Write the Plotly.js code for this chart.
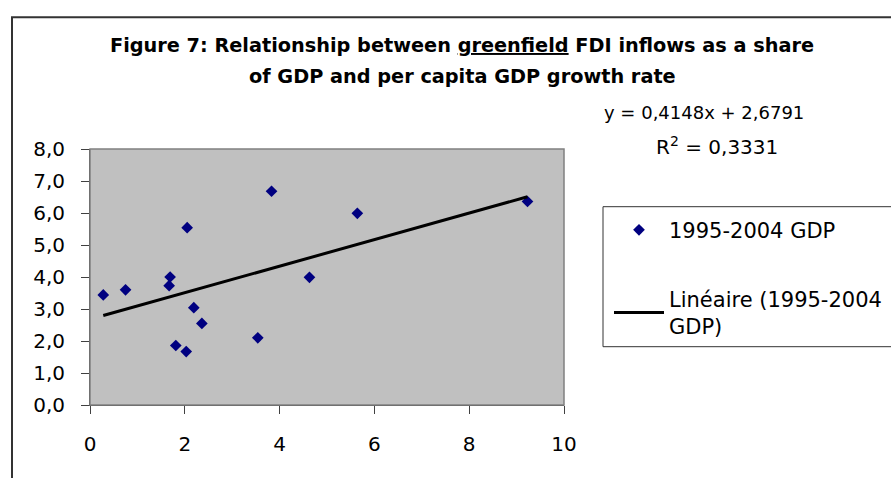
<!DOCTYPE html>
<html>
<head>
<meta charset="utf-8">
<script src="https://cdn.plot.ly/plotly-3.0.1.min.js"></script>
<style>html,body{margin:0;padding:0;background:#fff;}#chart{width:891px;height:478px;}</style>
</head>
<body>
<div id="chart"></div>
<script>
// Data (FDI share of GDP vs per-capita GDP growth)
const fdiShare = [0.28, 0.75, 1.69, 1.67, 2.05, 3.83, 5.64, 9.23, 4.63, 2.19, 2.36, 1.81, 2.03, 3.54];
const gdpGrowth = [3.44, 3.60, 4.00, 3.73, 5.54, 6.68, 5.99, 6.36, 3.99, 3.04, 2.55, 1.86, 1.67, 2.10];
const trendSlope = 0.4148;
const trendIntercept = 2.6791;
const rSquared = 0.3331;
const xTicks = [0, 2, 4, 6, 8, 10];
const yTicks = [0, 1, 2, 3, 4, 5, 6, 7, 8];
const seriesName = '1995-2004 GDP';
const trendName = 'Linéaire (1995-2004<br>GDP)';

const xMin = Math.min(...fdiShare), xMax = Math.max(...fdiShare);
const trendX = [xMin, xMax];
const trendY = trendX.map(v => trendSlope * v + trendIntercept);

// plot area in pixels
const L = 90, R = 564, T = 149.3, B = 405.3, W = 891, H = 478;
const px = x => (x - L) / (R - L);
const py = y => (B - y) / (B - T);
const fmt = v => v.toFixed(4).replace('.', ',');

const font = 'DejaVu Sans, Liberation Sans, Arial, sans-serif';

const traces = [
  {
    x: fdiShare, y: gdpGrowth, type: 'scatter', mode: 'markers', name: seriesName,
    marker: {symbol: 'diamond', size: 9, color: '#000080'},
    legend: 'legend', cliponaxis: false
  },
  {
    x: trendX, y: trendY, type: 'scatter', mode: 'lines', name: trendName,
    line: {color: '#000000', width: 3},
    legend: 'legend2', cliponaxis: false
  }
];

const layout = {
  width: W, height: H,
  margin: {l: L, r: W - R, t: T, b: H - B, pad: 0, autoexpand: false},
  paper_bgcolor: '#ffffff',
  plot_bgcolor: '#c0c0c0',
  separators: ', ',
  font: {family: font, size: 20, color: '#000'},
  showlegend: true,
  xaxis: {
    range: [0, 10], tickvals: xTicks, ticktext: xTicks.map(String),
    showgrid: false, zeroline: false, showline: true, linecolor: '#404040', linewidth: 1,
    ticks: 'outside', ticklen: 8, tickcolor: '#404040',
    ticklabelstandoff: 13, tickfont: {family: font, size: 20}
  },
  yaxis: {
    range: [0, 8], tickvals: yTicks, ticktext: yTicks.map(v => v.toFixed(1).replace('.', ',')),
    showgrid: false, zeroline: false, showline: true, linecolor: '#404040', linewidth: 1,
    ticks: 'outside', ticklen: 8, tickcolor: '#404040',
    ticklabelstandoff: 12, tickfont: {family: font, size: 20}
  },
  legend: {
    x: px(609), y: py(210), xanchor: 'left', yanchor: 'top',
    bgcolor: 'rgba(0,0,0,0)', borderwidth: 0, itemwidth: 50,
    font: {family: font, size: 21}
  },
  legend2: {
    x: px(609), y: py(279), xanchor: 'left', yanchor: 'top',
    bgcolor: 'rgba(0,0,0,0)', borderwidth: 0, itemwidth: 50,
    font: {family: font, size: 21}
  },
  shapes: [
    // outer frame
    {type: 'rect', xref: 'paper', yref: 'paper', x0: px(12), x1: px(1000), y0: py(17.5), y1: py(600),
     line: {color: '#333333', width: 2}, layer: 'below'},
    // plot area border
    {type: 'rect', xref: 'paper', yref: 'paper', x0: 0, x1: 1, y0: 0, y1: 1,
     line: {color: '#808080', width: 1.5}},
    // legend box
    {type: 'rect', xref: 'paper', yref: 'paper', x0: px(603), x1: px(1000), y0: py(347), y1: py(207),
     line: {color: '#333333', width: 1}}
  ],
  annotations: [
    {text: '<b>Figure 7: Relationship between <u>greenfield</u> FDI inflows as a share</b>',
     xref: 'paper', yref: 'paper', x: px(462), y: py(46), xanchor: 'center', yanchor: 'middle',
     showarrow: false, font: {family: font, size: 19.3}},
    {text: '<b>of GDP and per capita GDP growth rate</b>',
     xref: 'paper', yref: 'paper', x: px(462), y: py(77), xanchor: 'center', yanchor: 'middle',
     showarrow: false, font: {family: font, size: 19.3}},
    {text: 'y = ' + fmt(trendSlope) + 'x + ' + fmt(trendIntercept),
     xref: 'paper', yref: 'paper', x: px(704), y: py(113), xanchor: 'center', yanchor: 'middle',
     showarrow: false, font: {family: font, size: 18}},
    {text: 'R<sup>2</sup> = ' + fmt(rSquared),
     xref: 'paper', yref: 'paper', x: px(717), y: py(146), xanchor: 'center', yanchor: 'middle',
     showarrow: false, font: {family: font, size: 20}}
  ]
};

Plotly.newPlot('chart', traces, layout, {displayModeBar: false, staticPlot: true});
</script>
</body>
</html>
